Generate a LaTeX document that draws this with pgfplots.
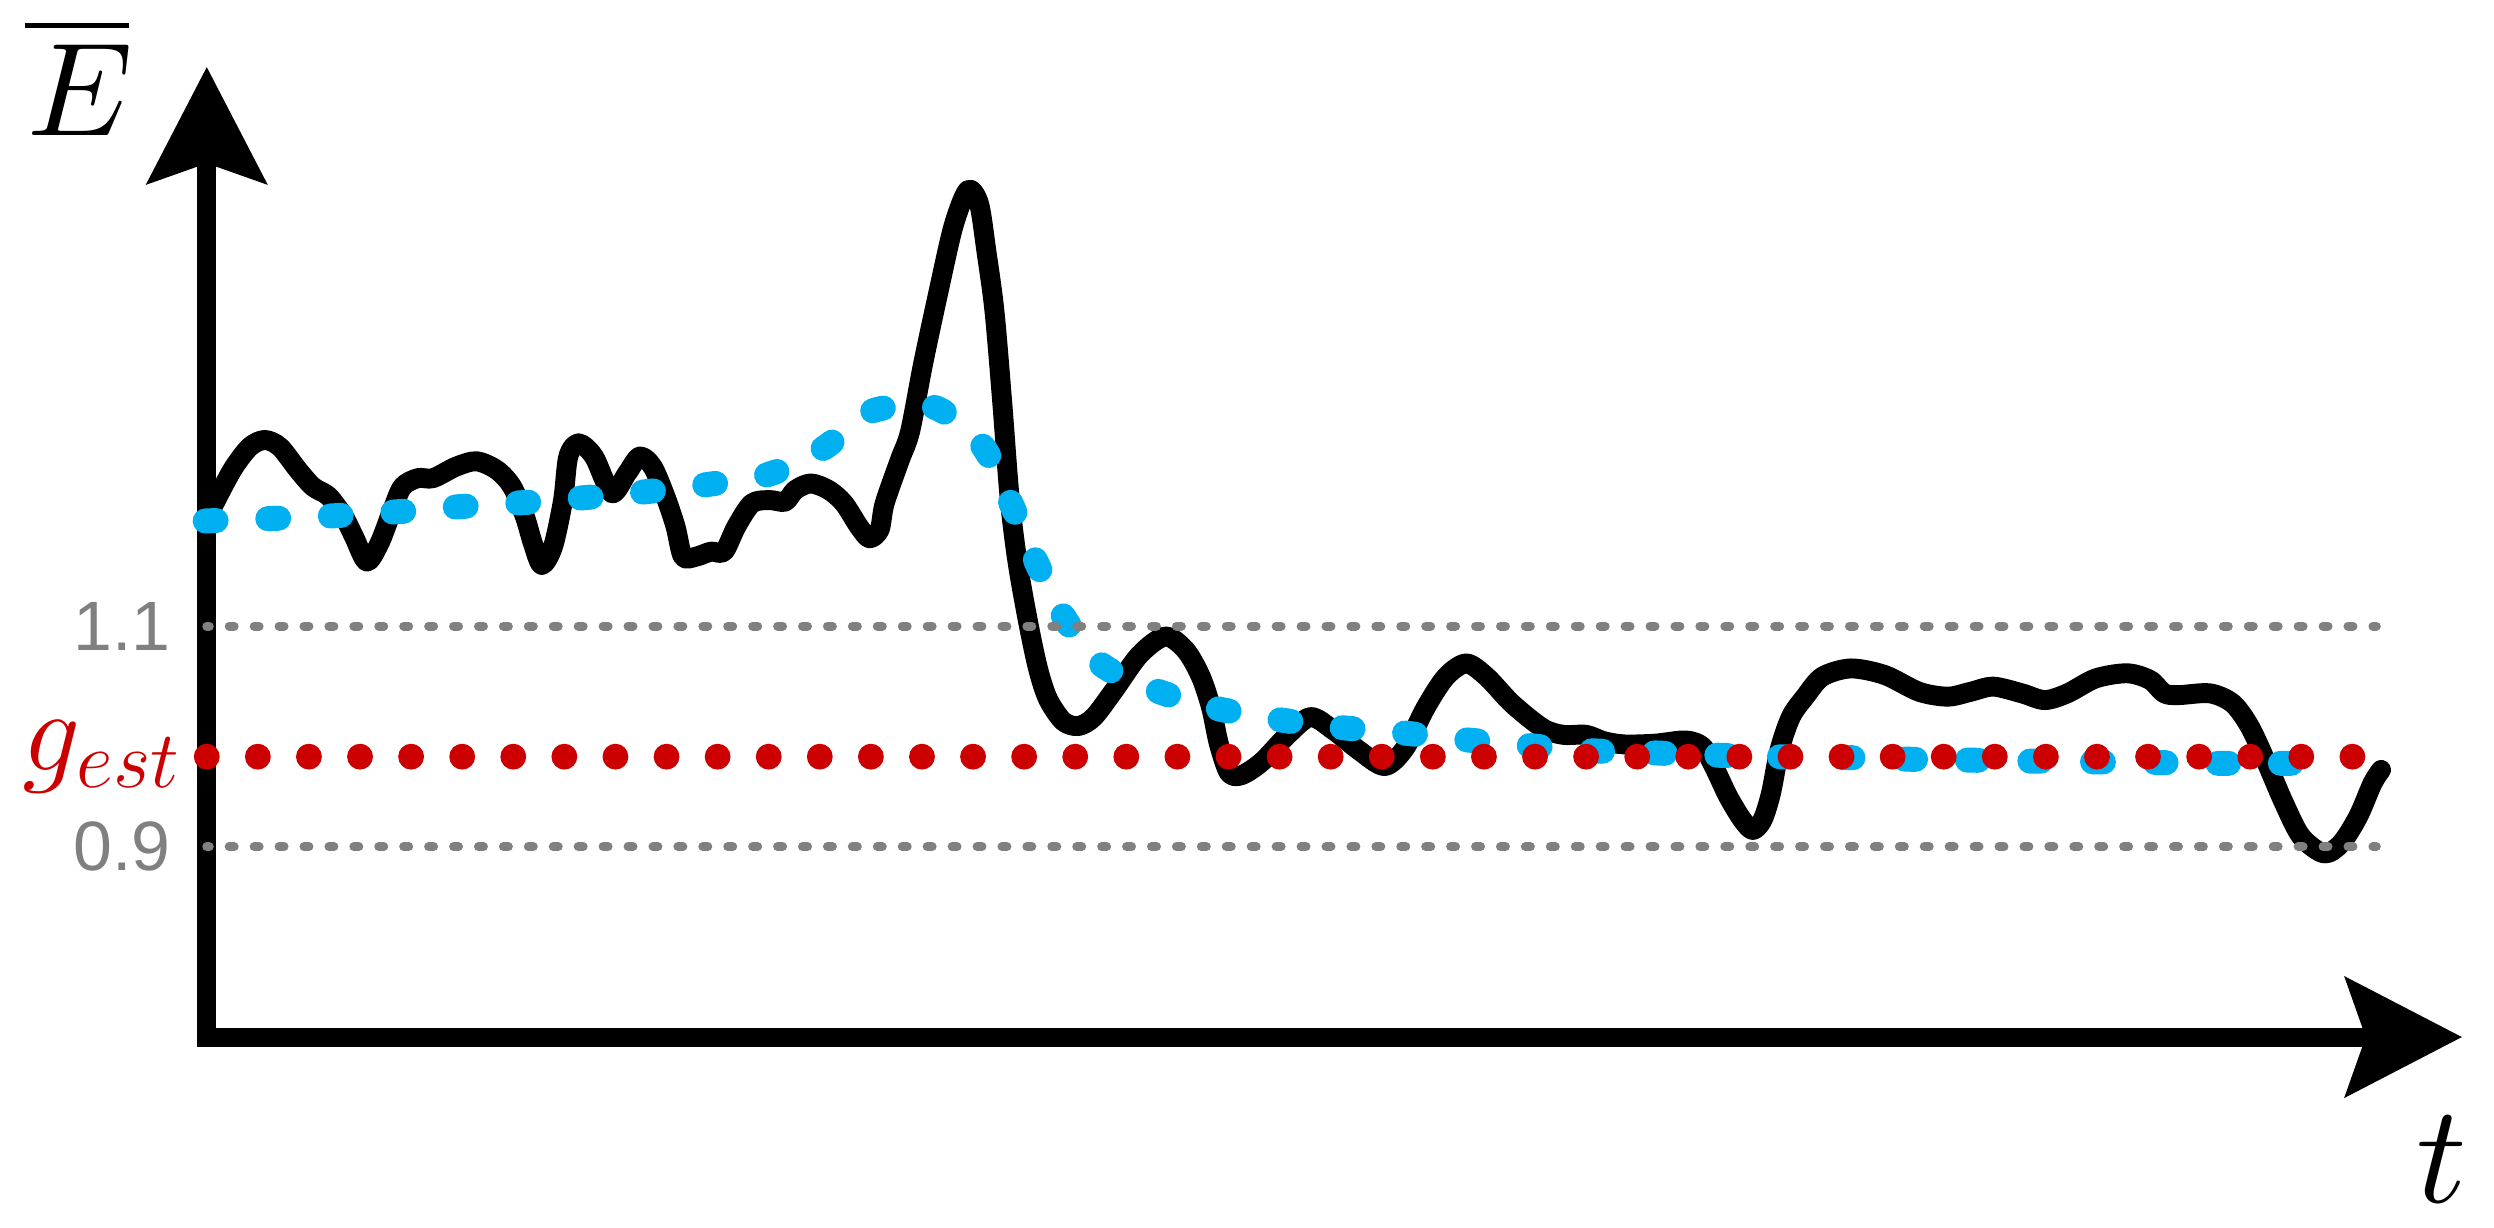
\RequirePackage{fix-cm}
\documentclass[border=0pt]{standalone}
\usepackage{fontspec}
\newfontfamily\arial{Liberation Sans}
\usepackage{pgfplots}
\pgfplotsset{compat=1.18}
\usetikzlibrary{arrows.meta}
\definecolor{myred}{RGB}{204,0,0}
\definecolor{myblue}{RGB}{0,176,240}
\definecolor{mygray}{RGB}{128,128,128}
\font\cmmiE=cmmi10 at 38pt
\font\cmmiT=cmmi10 at 40pt

\begin{document}
\begin{tikzpicture}
\path[use as bounding box] (-2.08,-1.92) rectangle (23.008,10.432);
\begin{axis}[
  scale only axis, width=22.688cm, height=9.76cm,
  xmin=130, xmax=1548, ymin=0.7274, ymax=1.6070,
  axis lines=left,
  axis line style={line width=0.191cm, line cap=rect, -{Stealth[length=1.17cm,width=1.19cm,inset=0.2cm]}},
  xtick=\empty,
  ytick={0.9,0.9816,1.1},
  yticklabels={{\fontsize{20}{24}\selectfont\arial\color{mygray}0.9\rule{0.1cm}{0pt}},
               {\fontsize{33}{40}\selectfont\color{myred}$g_{est}$},
               {\fontsize{20}{24}\selectfont\arial\color{mygray}1.1\rule{0.1cm}{0pt}}},
  yticklabel style={anchor=east, inner sep=0pt, xshift=-0.256cm},
  major tick length=0pt,
  clip=false,
]
% black curve
\addplot[black, line width=0.2cm, line cap=round, line join=round, smooth] coordinates {
(133,1.2061) (146,1.2415) (157,1.2624) (166.5,1.2687) (176,1.2624) (187.4,1.2415)
(196.8,1.2263) (206.6,1.2177) (216.2,1.1992) (222.6,1.1810) (230.6,1.1585) (238.6,1.1751)
(246.7,1.2053) (253,1.2263) (262.7,1.2341) (272.3,1.2341) (286.7,1.2445) (299.6,1.2494)
(312.4,1.2415) (322,1.2263) (330,1.1992) (335,1.1751) (340.6,1.1554) (347.7,1.1720)
(354,1.2142) (357.3,1.2537) (363.8,1.2657) (373.4,1.2537) (384.6,1.2205) (394.2,1.2384)
(402.2,1.2537) (410.3,1.2445) (418.3,1.2177) (424.7,1.1903) (429.4,1.1629) (437.6,1.1629)
(447,1.1675) (455.2,1.1675) (463,1.1903) (472.8,1.2113) (484,1.2142) (493.6,1.2128)
(500,1.2234) (509.7,1.2293) (521,1.2234) (530.6,1.2113) (540,1.1903) (546.6,1.1796)
(553,1.1874) (556.2,1.2113) (565.8,1.2508) (572.2,1.2765) (580.3,1.3373) (589.9,1.4021)
(599.5,1.4628) (608.5,1.4951) (615.5,1.4830) (620.3,1.4384) (625.2,1.3859) (630,1.3049)
(634.8,1.2159) (639.6,1.1593) (646,1.1066) (652.5,1.0621) (658.9,1.0338) (668.5,1.0136)
(678.1,1.0094) (687.7,1.0175) (700.5,1.0419) (716.6,1.0742) (732.6,1.0905) (745.4,1.0782)
(755,1.0540) (761.5,1.0257) (766.3,0.9933) (772.7,0.9669) (780.7,0.9649) (793.5,0.9771)
(809.6,1.0014) (824,1.0175) (838.5,1.0054) (854.5,0.9872) (870.5,0.9731) (883.3,0.9893)
(896.2,1.0257) (909,1.0540) (921.9,1.0661) (934.7,1.0540) (950.7,1.0296) (970,1.0074)
(982.8,1.0014) (997.2,1.0014) (1008.4,0.9956) (1021.3,0.9927) (1040.6,0.9934) (1059.7,0.9963)
(1070.4,0.9907) (1077.6,0.9725) (1086.6,0.9453) (1095.5,0.9242) (1102,0.9151) (1108.1,0.9242)
(1113.4,0.9483) (1118.8,0.9877) (1126,1.0178) (1134.9,1.0360) (1145.7,1.0541) (1163.6,1.0616)
(1185,1.0556) (1206.6,1.0404) (1224.6,1.0360) (1238.9,1.0404) (1253.2,1.0451) (1271.2,1.0390)
(1285.5,1.0329) (1299.8,1.0390) (1317.7,1.0526) (1337.5,1.0572) (1351.8,1.0511) (1360.7,1.0390)
(1369.7,1.0374) (1389.4,1.0390) (1403.7,1.0299) (1414.5,1.0087) (1425.2,0.9756) (1436,0.9394)
(1446.8,0.9091) (1461.1,0.8939) (1471.9,0.9030) (1482.6,0.9273) (1491.6,0.9574) (1497,0.9696)
};
% blue dashed curve
\addplot[myblue, line width=0.2515cm, line cap=round, line join=round, smooth, dash pattern=on 0.11cm off 0.52cm] coordinates {
(129,1.1953) (172.3,1.1976) (211.4,1.2001) (250.5,1.2037) (289.3,1.2083) (328.8,1.2119)
(367.3,1.2164) (406.1,1.2218) (445.6,1.2285) (484,1.2379) (518.4,1.2618) (547.2,1.2944)
(586.5,1.2988) (617.1,1.2645) (634.8,1.2139) (649.9,1.1633) (667.8,1.1107) (691.6,1.0661)
(726.2,1.0419) (763.7,1.0257) (802.5,1.0155) (840.7,1.0083) (880.2,1.0034) (918.7,0.9973)
(957.8,0.9921) (997.2,0.9872) (1036.5,0.9852) (1075.8,0.9831) (1115.3,0.9816) (1154.7,0.9810)
(1192.3,0.9795) (1231.8,0.9786) (1271.2,0.9777) (1309.9,0.9770) (1349.3,0.9764) (1388.7,0.9756)
(1428.2,0.9756) (1470,0.9756)
};
% red estimate line
\addplot[myred, line width=0.26cm, line cap=round, dash pattern=on 0pt off 0.5139cm] coordinates {(130,0.9816) (1480,0.9816)};
% gray reference lines
\addplot[mygray, line width=0.0905cm, line cap=round, dash pattern=on 0.05cm off 0.20074cm, dash phase=0.025cm] coordinates {(130,1.1) (1494,1.1)};
\addplot[mygray, line width=0.0905cm, line cap=round, dash pattern=on 0.05cm off 0.20074cm, dash phase=0.025cm] coordinates {(130,0.9) (1494,0.9)};
% axis labels
\node[anchor=base, inner sep=0pt] at (axis cs:48.2,1.5451) {\vbox{\hrule height 0.06cm\kern0.16cm\hbox{\kern0.03cm\cmmiE E\kern0.03cm}}};
\node[anchor=base, inner sep=0pt] at (axis cs:1535,0.5774) {\cmmiT t};
\end{axis}
\end{tikzpicture}
\end{document}
